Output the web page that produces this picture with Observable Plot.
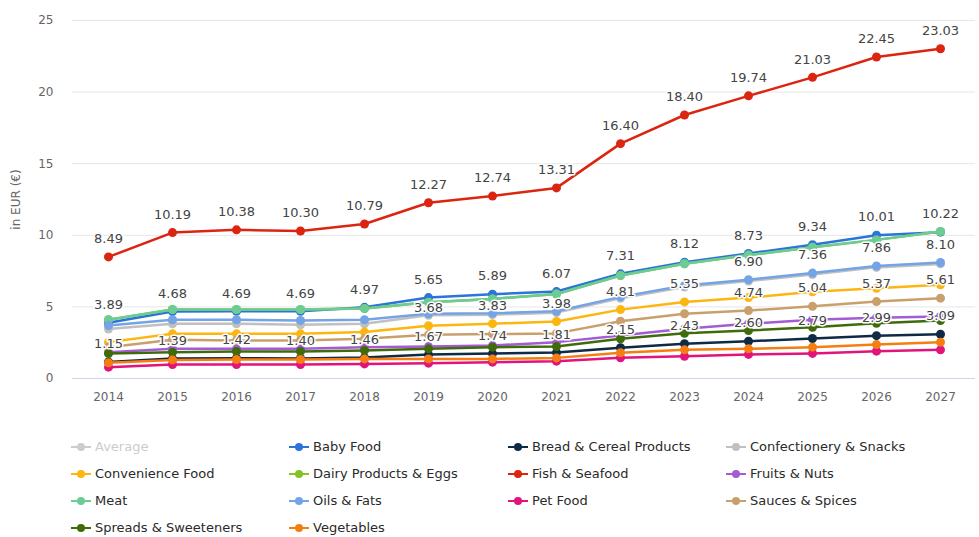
<!DOCTYPE html>
<html>
<head>
<meta charset="utf-8">
<script src="https://cdn.jsdelivr.net/npm/d3@7"></script>
<script src="https://cdn.jsdelivr.net/npm/@observablehq/plot@0.6"></script>
<style>
  html, body { margin: 0; padding: 0; background: #fff; }
  #chart svg { display: block; }
  #legend {
    font-family: "DejaVu Sans", sans-serif;
    font-size: 13px;
    color: #2a2a2a;
    padding-top: 13px;
    padding-left: 70px;
    display: grid;
    grid-template-columns: 218px 219px 218px 230px;
    grid-auto-rows: 27px;
  }
  .item { display: flex; align-items: center; white-space: nowrap; }
  .item svg { margin-right: 3px; flex: none; }
  .item.hidden { color: #cccccc; }
</style>
</head>
<body>
<div id="chart"></div>
<div id="legend"></div>
<script>
const years = [2014, 2015, 2016, 2017, 2018, 2019, 2020, 2021, 2022, 2023, 2024, 2025, 2026, 2027];

const categories = [
  "Average", "Baby Food", "Bread & Cereal Products", "Confectionery & Snacks",
  "Convenience Food", "Dairy Products & Eggs", "Fish & Seafood", "Fruits & Nuts",
  "Meat", "Oils & Fats", "Pet Food", "Sauces & Spices",
  "Spreads & Sweeteners", "Vegetables"
];
const colors = [
  "#c0c0c0", "#2a74dc", "#0f2a44", "#c0c0c0",
  "#fdb50f", "#84c225", "#dc2511", "#a35bd6",
  "#6ccc95", "#74a3e6", "#e3137c", "#c9a06c",
  "#3f6b0b", "#f57e12"
];
const hiddenSeries = ["Average"];

const babyFood      = [3.89, 4.68, 4.69, 4.69, 4.97, 5.65, 5.89, 6.07, 7.31, 8.12, 8.73, 9.34, 10.01, 10.22];
const bread         = [1.15, 1.39, 1.42, 1.40, 1.46, 1.67, 1.74, 1.81, 2.15, 2.43, 2.60, 2.79, 2.99, 3.09];
const confectionery = [3.45, 3.82, 3.82, 3.75, 3.82, 4.42, 4.46, 4.60, 5.60, 6.39, 6.80, 7.26, 7.76, 8.00];
const convenience   = [2.54, 3.12, 3.12, 3.12, 3.24, 3.68, 3.83, 3.98, 4.81, 5.35, 5.65, 6.05, 6.30, 6.55];
const dairy         = [4.10, 4.82, 4.82, 4.82, 4.88, 5.33, 5.56, 5.90, 7.19, 8.01, 8.62, 9.17, 9.68, 10.27];
const fish          = [8.49, 10.19, 10.38, 10.30, 10.79, 12.27, 12.74, 13.31, 16.40, 18.40, 19.74, 21.03, 22.45, 23.03];
const fruits        = [1.84, 2.07, 2.07, 2.07, 2.19, 2.23, 2.30, 2.54, 3.00, 3.47, 3.82, 4.10, 4.24, 4.33];
const meat          = [4.10, 4.82, 4.82, 4.82, 4.88, 5.33, 5.56, 5.90, 7.19, 8.01, 8.62, 9.17, 9.68, 10.27];
const oils          = [3.70, 4.10, 4.10, 4.05, 4.10, 4.52, 4.56, 4.70, 5.70, 6.49, 6.90, 7.36, 7.86, 8.10];
const petFood       = [0.79, 0.98, 0.98, 0.98, 1.02, 1.07, 1.14, 1.21, 1.45, 1.55, 1.68, 1.75, 1.91, 2.00];
const sauces        = [2.19, 2.70, 2.65, 2.65, 2.77, 3.05, 3.10, 3.15, 4.00, 4.52, 4.74, 5.04, 5.37, 5.61];
const spreads       = [1.74, 1.84, 1.89, 1.89, 1.96, 2.07, 2.19, 2.23, 2.77, 3.16, 3.35, 3.58, 3.86, 4.05];
const vegetables    = [1.10, 1.30, 1.33, 1.33, 1.37, 1.37, 1.37, 1.44, 1.80, 2.00, 2.07, 2.19, 2.37, 2.54];

// which data labels are visible in the reference (series -> years)
const labelYears = {
  "Fish & Seafood": years,
  "Baby Food": years,
  "Bread & Cereal Products": years,
  "Convenience Food": [2019, 2020, 2021, 2022, 2023],
  "Oils & Fats": [2024, 2025, 2026, 2027],
  "Sauces & Spices": [2024, 2025, 2026, 2027]
};

const seriesValues = {
  "Baby Food": babyFood,
  "Bread & Cereal Products": bread,
  "Confectionery & Snacks": confectionery,
  "Convenience Food": convenience,
  "Dairy Products & Eggs": dairy,
  "Fish & Seafood": fish,
  "Fruits & Nuts": fruits,
  "Meat": meat,
  "Oils & Fats": oils,
  "Pet Food": petFood,
  "Sauces & Spices": sauces,
  "Spreads & Sweeteners": spreads,
  "Vegetables": vegetables
};

const drawn = categories.filter(c => seriesValues[c]);
const rows = drawn.flatMap(name => years.map((year, i) => ({series: name, year, value: seriesValues[name][i]})));
const labelRows = rows.filter(d => labelYears[d.series] && labelYears[d.series].includes(d.year));
const fmt = d3.format(".2f");

const seriesMarks = drawn.flatMap(name => {
  const data = rows.filter(d => d.series === name);
  return [
    Plot.line(data, {x: "year", y: "value", stroke: "series", strokeWidth: 2.5}),
    Plot.dot(data, {x: "year", y: "value", fill: "series", r: 4.5})
  ];
});

const chart = Plot.plot({
  width: 979,
  height: 420,
  marginLeft: 72,
  marginRight: 4,
  marginTop: 20,
  marginBottom: 42,
  style: {fontFamily: "DejaVu Sans, sans-serif", fontSize: "12px", color: "#666", background: "white"},
  x: {type: "point", domain: years, padding: 0.5},
  y: {domain: [0, 25]},
  color: {domain: categories, range: colors},
  marks: [
    Plot.gridY([5, 10, 15, 20, 25], {stroke: "#e6e6e6", strokeOpacity: 1}),
    Plot.ruleY([0], {stroke: "#ccd6eb"}),
    Plot.axisX({tickSize: 0, tickPadding: 14, label: null, tickFormat: d => String(d), fill: "#666"}),
    Plot.axisY({ticks: [0, 5, 10, 15, 20, 25], tickSize: 0, tickPadding: 19, label: "in EUR (€)",
      labelAnchor: "center", labelOffset: 61, labelArrow: "none", fill: "#666"}),
    ...seriesMarks,
    Plot.text(labelRows, {x: "year", y: "value", text: d => fmt(d.value), dy: -18,
      fill: "#444", stroke: "white", strokeWidth: 3, fontSize: 13})
  ]
});
document.getElementById("chart").appendChild(chart);

// legend
const legend = document.getElementById("legend");
categories.forEach((name, i) => {
  const hidden = hiddenSeries.includes(name);
  const c = hidden ? "#cccccc" : colors[i];
  const item = document.createElement("div");
  item.className = "item" + (hidden ? " hidden" : "");
  item.innerHTML = `<svg width="22" height="12"><line x1="1" x2="21" y1="6" y2="6" stroke="${c}" stroke-width="2"/><circle cx="11" cy="6" r="4" fill="${c}"/></svg><span>${name}</span>`;
  legend.appendChild(item);
});
</script>
</body>
</html>
